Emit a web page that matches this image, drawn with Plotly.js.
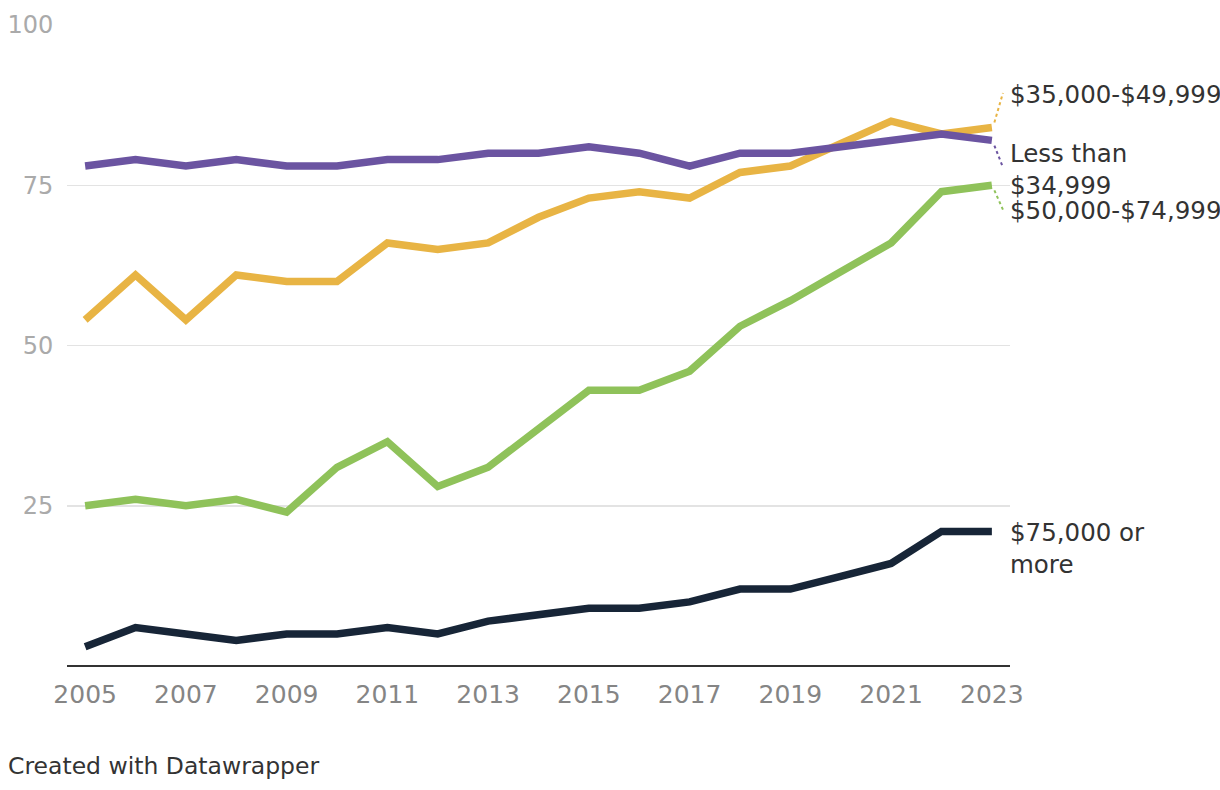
<!DOCTYPE html>
<html>
<head>
<meta charset="utf-8">
<script src="https://cdn.plot.ly/plotly-3.0.1.min.js"></script>
<style>
html,body{margin:0;padding:0;background:#fff;overflow:hidden;}
#chart{width:1220px;height:790px;}
</style>
</head>
<body>
<div id="chart"></div>
<script>
const years = [2005,2006,2007,2008,2009,2010,2011,2012,2013,2014,2015,2016,2017,2018,2019,2020,2021,2022,2023];
const lessThan35k = [78,79,78,79,78,78,79,79,80,80,81,80,78,80,80,81,82,83,82];
const from35to50k = [54,61,54,61,60,60,66,65,66,70,73,74,73,77,78,81.5,85,83,84];
const from50to75k = [25,26,25,26,24,31,35,28,31,37,43,43,46,53,57,61.5,66,74,75];
const over75k     = [3,6,5,4,5,5,6,5,7,8,9,9,10,12,12,14,16,21,21];
const seriesNames = ["Less than $34,999","$35,000-$49,999","$50,000-$74,999","$75,000 or more"];
const labelTexts  = ["Less than<br>$34,999","$35,000-$49,999","$50,000-$74,999","$75,000 or<br>more"];
const colors = ["#6b54a1","#e8b444","#8fc25a","#172537"];
const yTickVals = [0,25,50,75,100];
const yTickText = ["","25","50","75","100"];

const FONT = "DejaVu Sans, sans-serif";
const allSeries = [lessThan35k, from35to50k, from50to75k, over75k];
const order = [1,2,3,0];
const traces = order.map(i => ({
  x: years, y: allSeries[i], type: "scatter", mode: "lines",
  name: seriesNames[i],
  line: {color: colors[i], width: 7.5, shape: "linear"},
  hoverinfo: "x+y+name"
}));

const lastX = years[years.length-1];
const labelY = [77.5, 89.1, 71.0, 18.3];
const leaderEnd = [77.8, 89.4, 71.2, null];
const annotations = [];
const shapes = [];
for (let i=0;i<4;i++){
  annotations.push({
    xref:"paper", yref:"y", x:1, y:labelY[i], xanchor:"left", yanchor:"middle",
    xshift:-2, text: labelTexts[i], showarrow:false, align:"left",
    font:{family:FONT, size:24.5, color:"#333333"}
  });
  if (leaderEnd[i] !== null){
    const lastVal = allSeries[i][allSeries[i].length-1];
    shapes.push({
      type:"line", xref:"x", yref:"y",
      x0:lastX+0.05, y0:lastVal+(leaderEnd[i]>lastVal?0.8:-0.8), x1:lastX+0.22, y1:leaderEnd[i],
      line:{color:colors[i], width:2, dash:"dot"}
    });
  }
}
annotations.push({
  xref:"paper", yref:"paper", x:-67/943, y:-(766-666)/641, xanchor:"left", yanchor:"middle",
  xshift:6, text:"Created with Datawrapper", showarrow:false,
  font:{family:FONT, size:23.5, color:"#333333"}
});

const layout = {
  width:1220, height:790, autosize:false,
  margin:{l:67, r:210, t:25, b:124, pad:0},
  paper_bgcolor:"#ffffff", plot_bgcolor:"#ffffff",
  showlegend:false,
  font:{family:FONT},
  xaxis:{
    range:[2004.64, 2023.36], tickmode:"linear", tick0:2005, dtick:2,
    showgrid:false, zeroline:false, showline:false,
    ticks:"outside", ticklen:6, tickcolor:"rgba(0,0,0,0)",
    tickfont:{family:FONT, size:25, color:"#858585"}
  },
  yaxis:{
    range:[0,100], tickmode:"array", tickvals:yTickVals, ticktext:yTickText,
    showgrid:true, gridcolor:"#e3e3e3", gridwidth:1.5,
    zeroline:true, zerolinecolor:"#333333", zerolinewidth:2.5,
    showline:false, ticks:"outside", ticklen:8, tickcolor:"rgba(0,0,0,0)",
    tickfont:{family:FONT, size:24, color:"#aaaaaa"}
  },
  annotations: annotations,
  shapes: shapes
};
Plotly.newPlot("chart", traces, layout, {displayModeBar:false, staticPlot:true});
</script>
</body>
</html>
